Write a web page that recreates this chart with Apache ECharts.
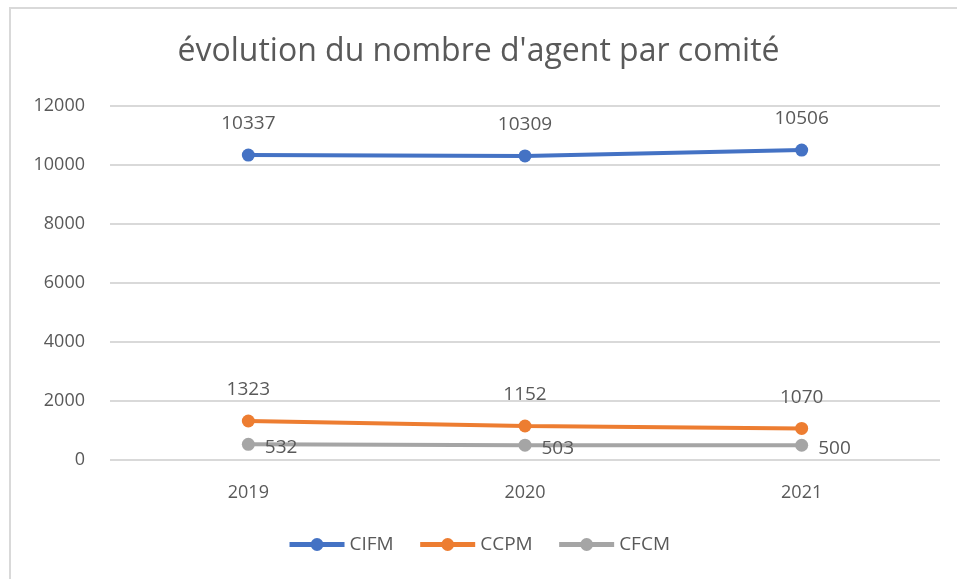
<!DOCTYPE html>
<html>
<head>
<meta charset="utf-8">
<script src="https://cdn.jsdelivr.net/npm/echarts@6/dist/echarts.min.js"></script>
<style>
  html, body { margin: 0; padding: 0; background: #fff; }
  #frame { position: absolute; left: 9px; top: 7px; width: 960px; height: 590px;
           border-left: 2px solid #d9d9d9; border-top: 2px solid #d9d9d9; }
  #chart { position: absolute; left: 0; top: 0; width: 957px; height: 579px; }
</style>
</head>
<body>
<div id="frame"></div>
<div id="chart"></div>
<script>
// années
var years = ['2019', '2020', '2021'];
// nombre d'agents par comité
var cifm = [10337, 10309, 10506];
var ccpm = [1323, 1152, 1070];
var cfcm = [532, 503, 500];
var yTicks = [0, 2000, 4000, 6000, 8000, 10000, 12000];

var txt = '#595959';
var font = '"Open Sans", "Liberation Sans", sans-serif';

function serie(name, data, color, labelPos) {
  return {
    name: name,
    type: 'line',
    data: data,
    symbol: 'circle',
    symbolSize: 13,
    lineStyle: { width: 4, color: color },
    itemStyle: { color: color },
    label: {
      show: true,
      position: labelPos,
      distance: labelPos == 'right' ? 10 : 15,
      color: txt,
      fontSize: 19,
      fontFamily: font,
      offset: labelPos == 'right' ? [0, 3] : [0, 0]
    }
  };
}

var myChart = echarts.init(document.getElementById('chart'));
myChart.setOption({
  animation: false,
  title: {
    text: "évolution du nombre d'agent par comité",
    left: 'center',
    top: 31,
    textStyle: { color: txt, fontSize: 32, fontWeight: 'normal', fontFamily: font }
  },
  grid: { left: 110, right: 17, top: 106, bottom: 119 },
  legend: {
    bottom: 20,
    left: 'center',
    itemWidth: 55,
    itemHeight: 16,
    itemGap: 24,
    lineStyle: { width: 5 },
    textStyle: { color: txt, fontSize: 19, fontFamily: font },
    data: ['CIFM', 'CCPM', 'CFCM']
  },
  xAxis: {
    type: 'category',
    data: years,
    boundaryGap: true,
    axisLine: { show: false },
    axisTick: { show: false },
    axisLabel: { color: txt, fontSize: 18, fontFamily: font, margin: 24 }
  },
  yAxis: {
    type: 'value',
    min: yTicks[0],
    max: yTicks[yTicks.length - 1],
    interval: 2000,
    axisLine: { show: false },
    axisTick: { show: false },
    axisLabel: { color: txt, fontSize: 18, fontFamily: font, margin: 25,
                 formatter: function (v) { return String(v); } },
    splitLine: { lineStyle: { color: '#d9d9d9', width: 2 } }
  },
  series: [
    serie('CIFM', cifm, '#4472c4', 'top'),
    serie('CCPM', ccpm, '#ed7d31', 'top'),
    serie('CFCM', cfcm, '#a5a5a5', 'right')
  ]
});
</script>
</body>
</html>
